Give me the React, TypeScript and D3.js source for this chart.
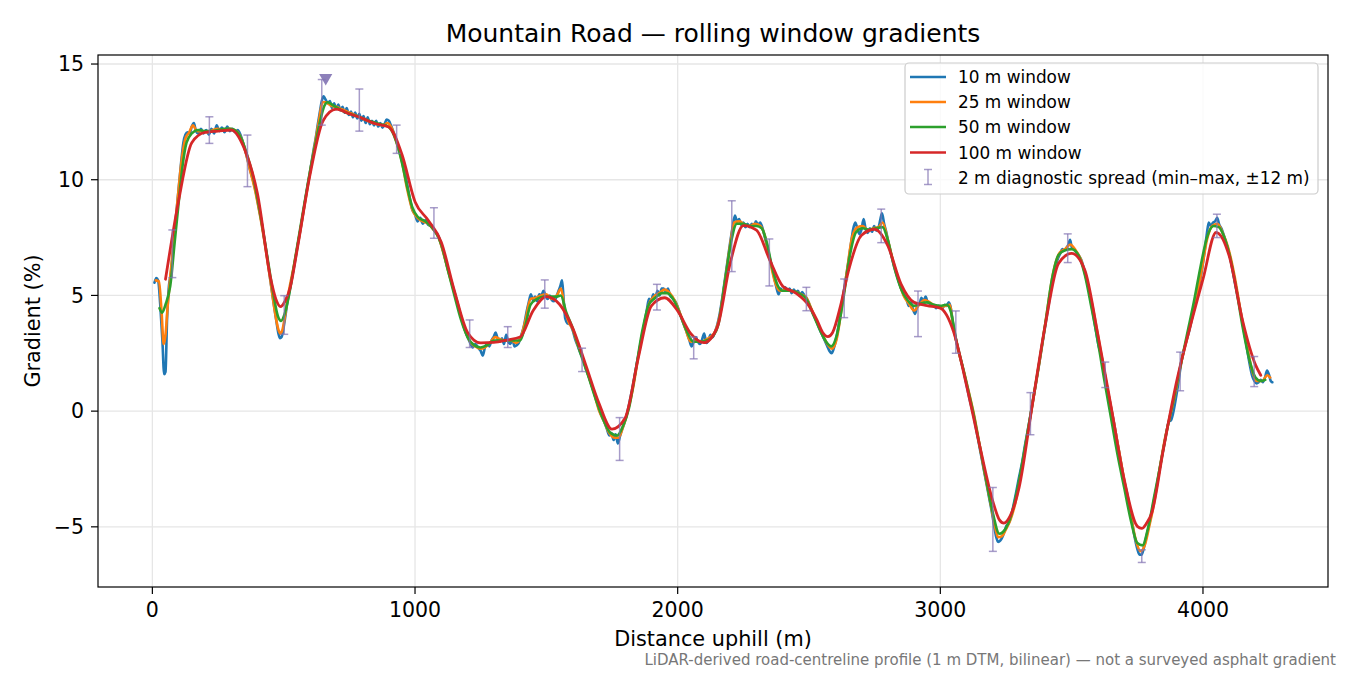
import React from "react";
import * as d3 from "d3";

type Pt = [number, number];

// 10 m rolling window
const win10: Pt[] = [
  [8, 5.55], [15, 5.75], [22, 5.65], [30, 4.6], [38, 3.1], [45, 1.6], [50, 1.7], [56, 4.0], [63, 5.4], [70, 5.9],
  [80, 7.1], [90, 8.4], [100, 9.6], [110, 10.8], [118, 11.6], [126, 11.95], [134, 12.05], [142, 12.0], [150, 12.3], [158, 12.45],
  [166, 12.1], [175, 12.0], [185, 12.2], [195, 12.0], [205, 12.15], [215, 11.95], [225, 12.2], [235, 12.0], [245, 12.35], [255, 12.1],
  [265, 12.25], [275, 12.05], [285, 12.3], [295, 12.1], [305, 12.2], [315, 12.05], [325, 12.15], [335, 11.95], [345, 11.6], [355, 11.2],
  [365, 10.75], [375, 10.3], [385, 9.9], [395, 9.4], [405, 8.8], [415, 8.2], [425, 7.5], [435, 6.8], [445, 6.0], [455, 5.2],
  [464, 4.5], [472, 3.9], [480, 3.35], [486, 3.15], [492, 3.2], [498, 3.5], [505, 4.0], [514, 4.7], [524, 5.3], [534, 5.9],
  [545, 6.6], [556, 7.35], [566, 8.0], [576, 8.7], [586, 9.4], [596, 10.05], [606, 10.75], [614, 11.3], [622, 11.8], [630, 12.4],
  [638, 12.95], [645, 13.4], [652, 13.6], [660, 13.45], [668, 13.3], [676, 13.4], [684, 13.1], [692, 13.3], [700, 13.05], [708, 13.25],
  [716, 13.0], [724, 13.15], [732, 12.9], [740, 13.1], [748, 12.8], [756, 12.95], [764, 12.7], [772, 12.9], [780, 12.65], [788, 12.85],
  [796, 12.55], [804, 12.75], [812, 12.45], [820, 12.7], [828, 12.4], [836, 12.55], [844, 12.35], [852, 12.55], [860, 12.3], [868, 12.45],
  [876, 12.25], [884, 12.4], [892, 12.6], [900, 12.55], [910, 12.3], [920, 12.0], [930, 11.65], [940, 11.25], [950, 10.85], [960, 10.4],
  [970, 9.8], [980, 9.2], [990, 8.7], [1000, 8.5], [1010, 8.2], [1020, 8.35], [1030, 8.1], [1040, 8.25], [1050, 8.05], [1060, 8.0],
  [1070, 7.85], [1080, 7.7], [1090, 7.55], [1100, 7.2], [1110, 6.8], [1120, 6.35], [1130, 5.95], [1140, 5.55], [1150, 5.15], [1160, 4.75],
  [1170, 4.3], [1180, 3.9], [1190, 3.5], [1200, 3.2], [1210, 2.95], [1220, 2.75], [1230, 2.9], [1240, 2.75], [1250, 2.6], [1258, 2.4],
  [1266, 2.75], [1275, 2.9], [1283, 2.8], [1291, 3.05], [1299, 3.2], [1307, 3.4], [1315, 3.1], [1323, 3.0], [1331, 3.15], [1339, 2.9],
  [1347, 3.3], [1355, 3.0], [1363, 2.9], [1371, 3.1], [1379, 2.8], [1387, 2.85], [1395, 2.95], [1405, 3.3], [1415, 3.7], [1425, 4.3],
  [1433, 4.7], [1441, 5.05], [1449, 4.8], [1457, 4.95], [1465, 4.75], [1473, 5.05], [1481, 5.0], [1489, 5.2], [1497, 5.0], [1505, 4.85],
  [1513, 5.0], [1521, 4.8], [1529, 4.75], [1537, 4.9], [1545, 5.15], [1553, 5.4], [1560, 5.65], [1566, 4.8], [1572, 4.0], [1580, 3.8],
  [1590, 3.75], [1600, 3.5], [1610, 3.1], [1620, 2.8], [1630, 2.5], [1640, 2.25], [1650, 1.85], [1660, 1.55], [1670, 1.2], [1680, 0.85],
  [1690, 0.5], [1700, 0.1], [1710, -0.2], [1720, -0.45], [1730, -0.75], [1740, -1.05], [1748, -0.95], [1756, -1.25], [1764, -1.0], [1772, -1.4],
  [1780, -1.1], [1788, -0.8], [1796, -0.55], [1805, -0.2], [1815, 0.3], [1825, 0.85], [1835, 1.45], [1845, 2.1], [1855, 2.7], [1865, 3.3],
  [1875, 3.9], [1883, 4.4], [1891, 4.85], [1899, 4.75], [1907, 5.05], [1915, 4.9], [1923, 5.2], [1931, 5.0], [1939, 5.3], [1947, 5.3],
  [1955, 5.15], [1963, 5.3], [1971, 5.0], [1979, 4.9], [1987, 4.8], [1995, 4.65], [2005, 4.35], [2015, 4.0], [2025, 3.7], [2035, 3.4],
  [2045, 3.05], [2053, 2.8], [2061, 3.0], [2069, 3.2], [2077, 3.0], [2085, 2.9], [2093, 3.1], [2101, 3.35], [2109, 2.95], [2117, 3.05],
  [2125, 3.3], [2133, 3.2], [2141, 3.4], [2150, 3.7], [2160, 4.2], [2170, 4.9], [2180, 5.7], [2190, 6.5], [2200, 7.3], [2210, 8.0],
  [2218, 8.45], [2226, 8.2], [2234, 8.3], [2242, 8.05], [2250, 8.15], [2258, 7.95], [2266, 8.1], [2274, 7.95], [2282, 8.1], [2290, 8.0],
  [2298, 8.2], [2306, 8.05], [2314, 8.15], [2322, 7.95], [2330, 7.6], [2340, 7.15], [2350, 6.65], [2360, 6.15], [2368, 5.75], [2376, 5.35],
  [2384, 5.05], [2392, 5.3], [2400, 5.2], [2410, 5.35], [2418, 5.2], [2426, 5.3], [2434, 5.1], [2442, 5.25], [2450, 5.15], [2458, 5.2],
  [2466, 5.0], [2474, 5.15], [2482, 5.0], [2490, 4.9], [2500, 4.65], [2510, 4.35], [2520, 4.1], [2530, 3.85], [2540, 3.55], [2550, 3.3],
  [2560, 3.05], [2570, 2.8], [2578, 2.6], [2586, 2.5], [2594, 2.7], [2602, 3.05], [2612, 3.65], [2622, 4.45], [2632, 5.15], [2642, 5.85],
  [2652, 6.6], [2660, 7.25], [2668, 7.85], [2676, 8.15], [2684, 7.9], [2692, 7.65], [2700, 7.85], [2708, 8.3], [2716, 7.85], [2724, 7.7],
  [2732, 7.9], [2740, 7.75], [2748, 8.0], [2756, 7.8], [2764, 7.9], [2772, 8.3], [2778, 8.55], [2786, 8.1], [2794, 7.75], [2802, 7.3],
  [2812, 6.8], [2822, 6.35], [2832, 5.95], [2842, 5.6], [2852, 5.25], [2862, 5.0], [2872, 4.8], [2880, 4.55], [2888, 4.7], [2896, 4.4],
  [2904, 4.2], [2912, 4.55], [2920, 4.6], [2928, 4.9], [2936, 4.75], [2944, 4.95], [2952, 4.7], [2960, 4.65], [2968, 4.55], [2976, 4.6],
  [2984, 4.45], [2992, 4.55], [3000, 4.5], [3008, 4.45], [3016, 4.6], [3024, 4.55], [3032, 4.7], [3040, 4.45], [3048, 3.8], [3056, 3.3],
  [3066, 2.75], [3076, 2.3], [3086, 1.85], [3096, 1.35], [3106, 0.8], [3116, 0.3], [3126, -0.15], [3136, -0.75], [3146, -1.35], [3156, -1.95],
  [3166, -2.55], [3176, -3.15], [3186, -3.75], [3196, -4.35], [3204, -4.9], [3212, -5.4], [3220, -5.65], [3228, -5.6], [3236, -5.45], [3244, -5.2],
  [3252, -4.95], [3260, -4.85], [3268, -4.6], [3278, -4.1], [3288, -3.55], [3298, -2.95], [3310, -2.3], [3322, -1.5], [3334, -0.75], [3346, 0.0],
  [3358, 0.8], [3370, 1.6], [3382, 2.45], [3394, 3.3], [3406, 4.15], [3418, 5.0], [3428, 5.7], [3438, 6.2], [3448, 6.6], [3456, 6.8],
  [3464, 7.0], [3472, 6.95], [3480, 7.05], [3488, 7.2], [3494, 7.4], [3500, 7.1], [3508, 7.0], [3516, 6.9], [3526, 6.75], [3536, 6.55],
  [3546, 6.2], [3556, 5.75], [3566, 5.2], [3578, 4.45], [3590, 3.65], [3602, 2.85], [3614, 2.35], [3626, 1.6], [3638, 0.85], [3650, 0.15],
  [3662, -0.55], [3674, -1.35], [3686, -2.1], [3698, -2.9], [3710, -3.5], [3720, -4.1], [3730, -4.8], [3740, -5.45], [3750, -5.95], [3758, -6.2],
  [3766, -6.2], [3774, -5.95], [3782, -5.55], [3792, -5.05], [3802, -4.55], [3812, -3.95], [3822, -3.35], [3832, -2.7], [3842, -2.05], [3852, -1.45],
  [3862, -0.85], [3870, -0.45], [3878, -0.4], [3886, -0.1], [3896, 0.5], [3906, 1.2], [3916, 2.0], [3926, 2.55], [3936, 3.0], [3946, 3.4],
  [3956, 3.9], [3966, 4.45], [3976, 4.95], [3986, 5.5], [3996, 6.1], [4006, 6.9], [4014, 7.6], [4022, 8.15], [4030, 8.0], [4038, 8.15],
  [4046, 8.2], [4054, 8.35], [4062, 8.05], [4070, 7.9], [4078, 7.65], [4086, 7.35], [4094, 7.05], [4104, 6.6], [4114, 6.0], [4124, 5.4],
  [4134, 4.85], [4144, 4.25], [4154, 3.6], [4164, 2.95], [4172, 2.4], [4180, 1.9], [4188, 1.5], [4196, 1.3], [4204, 1.2], [4212, 1.25],
  [4220, 1.35], [4228, 1.25], [4236, 1.45], [4244, 1.75], [4252, 1.55], [4258, 1.3], [4264, 1.25],
];

// 25 m rolling window
const win25: Pt[] = [
  [13, 5.65], [25, 5.6], [35, 4.3], [43, 2.9], [50, 3.3], [58, 4.5], [68, 5.8], [80, 7.2], [95, 9.0], [110, 10.7],
  [125, 11.75], [140, 12.05], [155, 12.35], [170, 12.1], [190, 12.1], [210, 12.05], [230, 12.15], [250, 12.2], [270, 12.15], [290, 12.2],
  [310, 12.15], [325, 12.05], [340, 11.75], [355, 11.2], [370, 10.5], [390, 9.6], [410, 8.45], [430, 7.1], [450, 5.6], [465, 4.4],
  [478, 3.6], [487, 3.35], [496, 3.55], [506, 4.2], [520, 5.2], [540, 6.35], [560, 7.6], [580, 8.95], [600, 10.3], [620, 11.6],
  [635, 12.6], [648, 13.35], [660, 13.35], [680, 13.2], [700, 13.15], [720, 13.05], [740, 12.95], [760, 12.85], [780, 12.75], [800, 12.65],
  [820, 12.55], [840, 12.45], [860, 12.4], [880, 12.35], [895, 12.45], [910, 12.25], [930, 11.6], [950, 10.8], [970, 9.6], [990, 8.7],
  [1010, 8.35], [1030, 8.2], [1050, 8.1], [1070, 7.85], [1090, 7.5], [1110, 6.75], [1130, 5.9], [1150, 5.1], [1170, 4.3], [1190, 3.5],
  [1210, 3.0], [1230, 2.8], [1250, 2.7], [1265, 2.75], [1285, 2.95], [1305, 3.2], [1325, 3.1], [1345, 3.05], [1365, 3.05], [1385, 2.95],
  [1400, 3.1], [1420, 3.9], [1440, 4.85], [1460, 4.9], [1480, 5.0], [1500, 5.05], [1520, 4.85], [1540, 5.0], [1556, 5.3], [1570, 4.4],
  [1585, 3.85], [1600, 3.55], [1620, 2.85], [1640, 2.25], [1660, 1.55], [1680, 0.85], [1700, 0.05], [1720, -0.45], [1740, -0.95], [1760, -1.15],
  [1775, -1.15], [1790, -0.75], [1810, 0.0], [1830, 1.0], [1850, 2.35], [1870, 3.55], [1890, 4.6], [1910, 4.95], [1930, 5.1], [1950, 5.25],
  [1970, 5.1], [1990, 4.75], [2010, 4.2], [2030, 3.55], [2050, 3.0], [2070, 3.05], [2090, 3.0], [2110, 3.1], [2130, 3.25], [2145, 3.5],
  [2160, 4.1], [2180, 5.6], [2200, 7.2], [2215, 8.15], [2235, 8.2], [2255, 8.05], [2275, 8.0], [2295, 8.1], [2315, 8.0], [2330, 7.65],
  [2350, 6.6], [2370, 5.6], [2390, 5.2], [2410, 5.25], [2430, 5.2], [2450, 5.15], [2470, 5.05], [2490, 4.9], [2510, 4.4], [2530, 3.85],
  [2550, 3.35], [2570, 2.9], [2588, 2.7], [2605, 3.1], [2625, 4.5], [2645, 6.1], [2665, 7.55], [2685, 7.95], [2705, 8.0], [2725, 7.8],
  [2745, 7.9], [2765, 7.95], [2780, 8.15], [2800, 7.4], [2820, 6.5], [2840, 5.7], [2860, 5.0], [2880, 4.65], [2900, 4.35], [2920, 4.6],
  [2940, 4.8], [2960, 4.7], [2980, 4.55], [3000, 4.5], [3020, 4.55], [3035, 4.6], [3050, 3.6], [3070, 2.55], [3090, 1.7], [3110, 0.75],
  [3130, -0.25], [3150, -1.5], [3170, -2.75], [3190, -3.9], [3205, -4.8], [3220, -5.45], [3235, -5.4], [3250, -5.1], [3265, -4.75], [3285, -4.0],
  [3305, -2.8], [3330, -1.1], [3355, 0.6], [3380, 2.3], [3405, 4.2], [3430, 6.0], [3455, 6.85], [3475, 7.0], [3495, 7.2], [3515, 6.95],
  [3535, 6.55], [3555, 5.75], [3580, 4.5], [3605, 2.95], [3630, 1.35], [3655, -0.15], [3680, -1.7], [3705, -3.3], [3725, -4.5], [3745, -5.6],
  [3762, -6.05], [3778, -5.8], [3795, -5.0], [3815, -3.9], [3835, -2.5], [3855, -1.2], [3875, -0.2], [3895, 0.8], [3920, 2.25], [3945, 3.4],
  [3970, 4.6], [3995, 6.1], [4015, 7.4], [4035, 8.0], [4055, 8.1], [4075, 7.7], [4095, 7.1], [4120, 5.85], [4145, 4.2], [4165, 3.0],
  [4185, 1.85], [4205, 1.3], [4225, 1.3], [4245, 1.55], [4256, 1.45],
];

// 50 m rolling window
const win50: Pt[] = [
  [27, 4.45], [37, 4.25], [50, 4.6], [68, 5.4], [85, 7.3], [100, 9.0], [115, 10.6], [130, 11.6], [150, 12.0], [175, 12.15],
  [200, 12.1], [225, 12.1], [250, 12.15], [275, 12.2], [300, 12.2], [320, 12.1], [340, 11.75], [360, 11.1], [380, 10.3], [400, 9.2],
  [420, 7.9], [440, 6.5], [460, 5.1], [478, 4.1], [490, 3.9], [502, 4.15], [520, 5.0], [540, 6.35], [560, 7.7], [580, 9.05],
  [600, 10.35], [620, 11.5], [640, 12.6], [655, 13.2], [667, 13.35], [690, 13.2], [720, 13.0], [750, 12.85], [780, 12.75], [810, 12.6],
  [840, 12.5], [870, 12.4], [890, 12.35], [910, 12.15], [930, 11.6], [950, 10.75], [970, 9.7], [990, 8.8], [1010, 8.4], [1040, 8.2],
  [1060, 8.0], [1080, 7.7], [1100, 7.2], [1125, 6.1], [1150, 5.0], [1175, 3.95], [1200, 3.2], [1225, 2.85], [1250, 2.75], [1275, 2.85],
  [1300, 3.05], [1325, 3.05], [1350, 3.05], [1375, 3.05], [1400, 3.05], [1420, 3.7], [1440, 4.6], [1465, 4.85], [1490, 4.95], [1515, 4.95],
  [1540, 4.95], [1555, 5.0], [1575, 4.3], [1600, 3.6], [1630, 2.5], [1660, 1.5], [1690, 0.45], [1720, -0.45], [1745, -0.95], [1770, -1.05],
  [1790, -0.7], [1815, 0.15], [1840, 1.75], [1865, 3.45], [1890, 4.6], [1915, 4.9], [1940, 5.1], [1960, 5.1], [1985, 4.8], [2010, 4.15],
  [2035, 3.45], [2060, 3.0], [2085, 3.0], [2110, 3.05], [2135, 3.25], [2155, 3.75], [2180, 5.6], [2205, 7.4], [2225, 8.1], [2250, 8.1],
  [2275, 8.0], [2300, 8.0], [2320, 7.9], [2340, 7.25], [2360, 6.2], [2380, 5.45], [2400, 5.2], [2430, 5.2], [2460, 5.1], [2490, 4.85],
  [2515, 4.2], [2540, 3.55], [2565, 3.0], [2585, 2.8], [2605, 3.25], [2630, 4.8], [2655, 6.7], [2680, 7.75], [2705, 7.9], [2730, 7.85],
  [2755, 7.9], [2780, 7.95], [2800, 7.4], [2825, 6.2], [2850, 5.3], [2875, 4.8], [2900, 4.55], [2925, 4.65], [2950, 4.7], [2975, 4.6],
  [3000, 4.55], [3025, 4.6], [3040, 4.3], [3060, 3.1], [3080, 2.15], [3100, 1.2], [3125, -0.05], [3150, -1.5], [3175, -3.0], [3200, -4.4],
  [3225, -5.3], [3250, -5.05], [3275, -4.3], [3300, -3.0], [3325, -1.4], [3350, 0.3], [3375, 2.0], [3400, 3.8], [3425, 5.7], [3450, 6.75],
  [3475, 6.95], [3500, 7.0], [3525, 6.75], [3550, 5.9], [3575, 4.5], [3600, 3.0], [3625, 1.3], [3650, -0.3], [3675, -1.9], [3700, -3.3],
  [3725, -4.7], [3750, -5.7], [3770, -5.8], [3790, -5.1], [3815, -3.65], [3840, -2.2], [3865, -0.7], [3890, 0.6], [3915, 2.0], [3940, 3.35],
  [3965, 4.7], [3990, 6.2], [4015, 7.5], [4040, 8.0], [4060, 7.95], [4080, 7.55], [4100, 6.8], [4125, 5.4], [4150, 3.7], [4175, 2.3],
  [4200, 1.45], [4220, 1.3], [4237, 1.35],
];

// 100 m rolling window
const win100: Pt[] = [
  [50, 5.7], [100, 9.1], [150, 11.6], [200, 12.05], [250, 12.1], [300, 12.15], [350, 11.35], [400, 9.4], [450, 5.75], [470, 4.85],
  [488, 4.52], [505, 4.75], [525, 5.35], [550, 6.9], [600, 10.2], [650, 12.55], [700, 13.05], [750, 12.85], [800, 12.65], [850, 12.42],
  [900, 12.28], [950, 11.1], [1000, 9.05], [1050, 8.25], [1100, 7.3], [1150, 5.2], [1200, 3.4], [1250, 2.95], [1300, 2.97], [1350, 3.07],
  [1400, 3.2], [1450, 4.35], [1500, 4.95], [1550, 4.62], [1600, 3.6], [1650, 2.0], [1700, 0.35], [1750, -0.78], [1800, -0.3], [1850, 2.3],
  [1900, 4.55], [1950, 4.9], [2000, 4.33], [2050, 3.35], [2100, 2.96], [2150, 3.6], [2200, 6.4], [2250, 8.02], [2300, 7.82], [2350, 6.55],
  [2400, 5.4], [2450, 5.1], [2500, 4.55], [2530, 3.94], [2552, 3.4], [2572, 3.22], [2590, 3.4], [2620, 4.55], [2650, 6.05], [2700, 7.6],
  [2750, 7.86], [2800, 7.15], [2850, 5.5], [2900, 4.7], [2950, 4.56], [3000, 4.45], [3050, 3.45], [3100, 1.1], [3150, -1.5], [3200, -3.9],
  [3225, -4.7], [3242, -4.84], [3265, -4.55], [3300, -3.3], [3350, 0.25], [3400, 3.75], [3450, 6.38], [3500, 6.82], [3550, 6.1], [3600, 3.3],
  [3650, 0.2], [3700, -2.95], [3750, -4.98], [3767, -5.07], [3785, -4.85], [3805, -4.4], [3850, -1.6], [3900, 1.3], [3950, 3.6], [4000, 5.7],
  [4050, 7.72], [4100, 6.7], [4150, 3.95], [4200, 2.0], [4220, 1.55],
];

// 2 m diagnostic spread (min–max within ±12 m)
const spreadX = [76, 217, 362, 502, 645, 788, 930, 1072, 1208, 1353, 1494, 1636, 1779, 1921, 2061, 2206, 2349, 2490, 2634, 2775, 2915, 3059, 3200, 3343, 3485, 3628, 3767, 3913, 4053, 4195];
const spreadLo = [5.77, 11.57, 9.7, 3.32, 12.36, 12.1, 11.14, 7.47, 2.75, 2.75, 4.45, 1.71, -2.13, 4.37, 2.26, 6.03, 5.41, 4.34, 4.04, 7.28, 3.22, 2.5, -6.06, -1.02, 6.42, 1.02, -6.54, 0.88, 7.5, 1.06];
const spreadHi = [7.83, 12.72, 11.93, 4.99, 14.33, 13.92, 12.36, 8.79, 3.94, 3.65, 5.67, 2.72, -0.28, 5.48, 3.2, 9.09, 7.44, 5.35, 5.71, 8.73, 5.19, 4.33, -3.3, 0.8, 7.66, 2.12, -5.99, 2.55, 8.51, 2.36];

// steepest-point marker
const peakMarker: Pt = [660, 14.4];

const xTicks = [0, 1000, 2000, 3000, 4000];
const yTicks = [-5, 0, 5, 10, 15];

const seriesNames = ["10 m window", "25 m window", "50 m window", "100 m window"];
const seriesColors = ["#1f77b4", "#ff7f0e", "#2ca02c", "#d62728"];
const spreadLabel = "2 m diagnostic spread (min–max, ±12 m)";
const spreadColor = "#8172b2";

const W = 1350;
const H = 675;
const L = 98, R = 1328, T = 55, B = 587;
const FONT = "'DejaVu Sans', sans-serif";

export default function App() {
  const x = d3.scaleLinear().domain([-207, 4476]).range([L, R]);
  const y = d3.scaleLinear().domain([-7.6, 15.39]).range([B, T]);
  const line = d3
    .line<Pt>()
    .x((d) => x(d[0]))
    .y((d) => y(d[1]))
    .curve(d3.curveMonotoneX);
  const series = [win10, win25, win50, win100];
  const widths = [2.6, 2.6, 2.6, 2.8];
  const cap = 4;

  const legX = 905, legY = 63, legW = 413, legH = 131;
  const rowY = [77, 102, 127, 152.5, 177.5];

  const tri = d3.symbol().type(d3.symbolTriangle).size(75)();

  return (
    <svg
      width={W}
      height={H}
      style={{ position: "fixed", left: 0, top: 0, background: "#fff" }}
      fontFamily={FONT}
    >
      <defs>
        <clipPath id="plotclip">
          <rect x={L} y={T} width={R - L} height={B - T} />
        </clipPath>
      </defs>
      <rect x={0} y={0} width={W} height={H} fill="#fff" />
      {xTicks.map((t) => (
        <line key={"gx" + t} x1={x(t)} x2={x(t)} y1={T} y2={B} stroke="#e6e6e6" strokeWidth={1.3} />
      ))}
      {yTicks.map((t) => (
        <line key={"gy" + t} x1={L} x2={R} y1={y(t)} y2={y(t)} stroke="#e6e6e6" strokeWidth={1.3} />
      ))}
      <g clipPath="url(#plotclip)">
        {series.map((s, i) => (
          <path
            key={"s" + i}
            d={line(s) || ""}
            fill="none"
            stroke={seriesColors[i]}
            strokeWidth={widths[i]}
            strokeLinejoin="round"
            strokeLinecap="round"
          />
        ))}
        <g stroke={spreadColor} strokeOpacity={0.7} strokeWidth={1.5}>
          {spreadX.map((sx, i) => (
            <g key={"e" + i}>
              <line x1={x(sx)} x2={x(sx)} y1={y(spreadLo[i])} y2={y(spreadHi[i])} />
              <line x1={x(sx) - cap} x2={x(sx) + cap} y1={y(spreadLo[i])} y2={y(spreadLo[i])} />
              <line x1={x(sx) - cap} x2={x(sx) + cap} y1={y(spreadHi[i])} y2={y(spreadHi[i])} />
            </g>
          ))}
        </g>
        <path
          d={tri}
          transform={`translate(${x(peakMarker[0])},${y(peakMarker[1])}) rotate(180)`}
          fill={spreadColor}
          fillOpacity={0.9}
        />
      </g>
      <rect x={L} y={T} width={R - L} height={B - T} fill="none" stroke="#000" strokeWidth={1.2} />
      {xTicks.map((t) => (
        <g key={"xt" + t}>
          <line x1={x(t)} x2={x(t)} y1={B} y2={B + 7} stroke="#000" strokeWidth={1.2} />
          <text x={x(t)} y={617} textAnchor="middle" fontSize={20.5} fill="#000">
            {String(t)}
          </text>
        </g>
      ))}
      {yTicks.map((t) => (
        <g key={"yt" + t}>
          <line x1={L - 7} x2={L} y1={y(t)} y2={y(t)} stroke="#000" strokeWidth={1.2} />
          <text x={84} y={y(t) + 7.3} textAnchor="end" fontSize={20.5} fill="#000">
            {t < 0 ? "\u2212" + Math.abs(t) : String(t)}
          </text>
        </g>
      ))}
      <text x={(L + R) / 2} y={42} textAnchor="middle" fontSize={25} fill="#000">
        Mountain Road — rolling window gradients
      </text>
      <text x={(L + R) / 2} y={646} textAnchor="middle" fontSize={20.8} fill="#000">
        Distance uphill (m)
      </text>
      <text
        transform={`translate(40, ${(T + B) / 2}) rotate(-90)`}
        textAnchor="middle"
        fontSize={20.8}
        fill="#000"
      >
        Gradient (%)
      </text>
      <text x={1336} y={665} textAnchor="end" fontSize={15} fill="#777">
        LiDAR-derived road-centreline profile (1 m DTM, bilinear) — not a surveyed asphalt gradient
      </text>
      <rect
        x={legX}
        y={legY}
        width={legW}
        height={legH}
        rx={4}
        fill="#fff"
        fillOpacity={0.8}
        stroke="#cccccc"
        strokeWidth={1.2}
      />
      {seriesNames.map((n, i) => (
        <g key={"lg" + i}>
          <line x1={910} x2={946} y1={rowY[i]} y2={rowY[i]} stroke={seriesColors[i]} strokeWidth={2.6} />
          <text x={958} y={rowY[i] + 6} fontSize={16.9} fill="#000">
            {n}
          </text>
        </g>
      ))}
      <g stroke={spreadColor} strokeOpacity={0.7} strokeWidth={1.5}>
        <line x1={928} x2={928} y1={rowY[4] - 8} y2={rowY[4] + 7} />
        <line x1={924} x2={932} y1={rowY[4] - 8} y2={rowY[4] - 8} />
        <line x1={924} x2={932} y1={rowY[4] + 7} y2={rowY[4] + 7} />
      </g>
      <text x={958} y={rowY[4] + 6} fontSize={16.9} fill="#000">
        {spreadLabel}
      </text>
    </svg>
  );
}
